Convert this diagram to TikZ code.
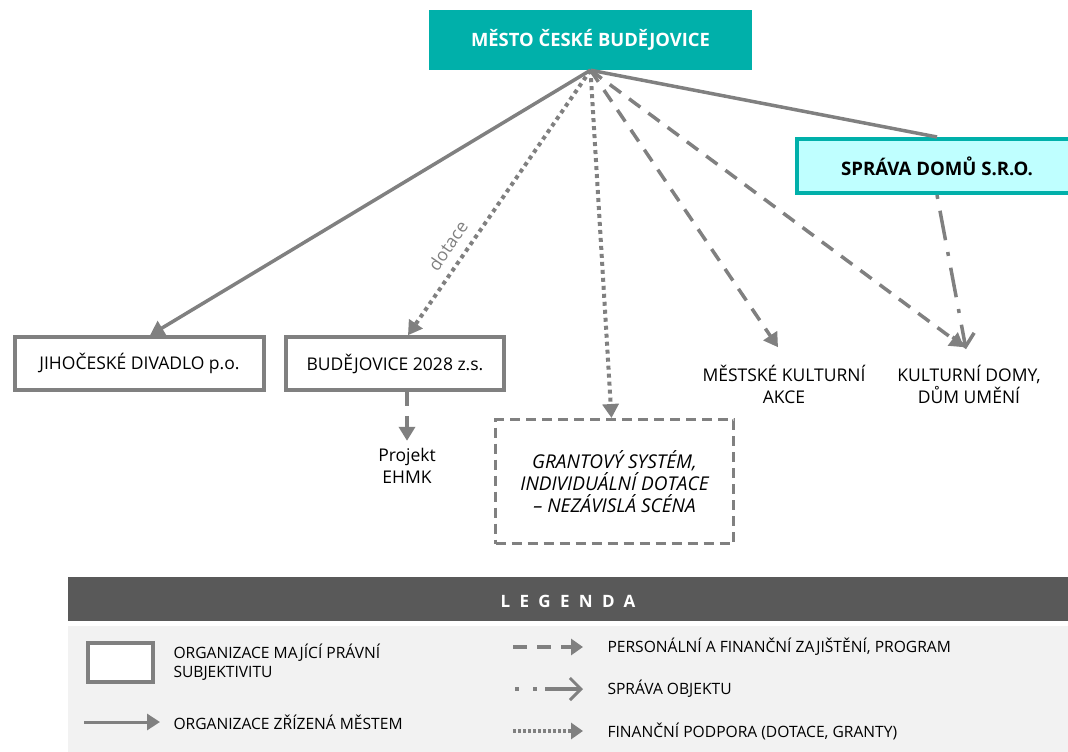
\documentclass[tikz,border=0pt]{standalone}
\usepackage{fontspec}
\setmainfont{Open Sans}
\usetikzlibrary{arrows.meta,positioning,calc}

\definecolor{cbteal}{HTML}{00B0AA}
\definecolor{cbcyan}{HTML}{BFFFFF}
\definecolor{cbgray}{HTML}{808080}
\definecolor{cbdark}{HTML}{595959}
\definecolor{cblight}{HTML}{F2F2F2}

\begin{document}
\begin{tikzpicture}
[x=1pt,y=-1pt,
font=\fontsize{17.5}{22}\selectfont,
%
city/.style={shape=rectangle,fill=cbteal,text=white,font=\fontsize{18.4}{22}\selectfont\bfseries,minimum width=323pt,minimum height=60pt},
firm/.style={shape=rectangle,draw=cbteal,fill=cbcyan,line width=4pt,font=\fontsize{18.6}{22}\selectfont\bfseries,minimum width=281pt,minimum height=54pt},
org/.style={shape=rectangle,draw=cbgray,fill=white,line width=3.5pt,minimum height=53pt},
grant/.style={shape=rectangle,draw=cbgray,line width=3pt,dash pattern=on 10pt off 6pt,minimum width=238pt,minimum height=124pt,align=center,font=\fontsize{19}{22}\selectfont\itshape},
plain/.style={align=center},
legtext/.style={anchor=west,align=left,font=\fontsize{15.6}{19}\selectfont},
%
link/.style={draw=cbgray,line width=3.5pt},
sedge/.style={link,-{Triangle[length=14pt,width=16pt]}},
dashedge/.style={sedge,dash pattern=on 14pt off 10pt},
dotedge/.style={sedge,line width=4pt,dash pattern=on 4pt off 4pt},
careedge/.style={link,dash pattern=on 4pt off 12pt on 30pt off 12pt,-{Straight Barb[length=12pt,width=22pt,line width=3.5pt]}}]
%
\useasboundingbox (0,0) rectangle (1068,752);
%
% organisations
\node (city) [city] at (590.5,40) {MĚSTO ČESKÉ BUDĚJOVICE};
\node (domy) [firm] at (937,166) {SPRÁVA DOMŮ S.R.O.};
\node (divadlo) [org,minimum width=249pt] at (139.5,363.5) {JIHOČESKÉ DIVADLO p.o.};
\node (bud) [org,minimum width=218pt] at (395,363.5) {BUDĚJOVICE 2028 z.s.};
\node (ehmk) [plain] at (407,466) {Projekt\\EHMK};
\node (grant) [grant] at (614.5,481.5) {GRANTOVÝ SYSTÉM,\\INDIVIDUÁLNÍ DOTACE\\– NEZÁVISLÁ SCÉNA};
\node (akce) [plain] at (784,384) {MĚSTSKÉ KULTURNÍ\\AKCE};
\node (kd) [plain] at (969,384) {KULTURNÍ DOMY,\\DŮM UMĚNÍ};
%
% links
\draw[link] (city.south) -- (domy.north);
\draw[sedge] (city.south) -- ($(divadlo.north)+(10.5,0)$);
\draw[dotedge] (city.south) -- ($(bud.north)+(13,0)$)
  node [pos=.7,sloped,above=6pt,text=cbgray] {dotace};
\draw[dashedge] (bud.south) ++(12,0) -- ($(ehmk.north)+(0,-4)$);
\draw[dotedge] (city.south) -- ($(grant.north)+(-3,0)$);
\draw[dashedge] (city.south) -- ($(akce.north)+(-6,-14)$);
\draw[dashedge] (city.south) -- ($(kd.north)+(-5,-14)$);
\draw[careedge] (domy.south) -- ($(kd.north)+(-3,-12)$);
%
% legend
\fill[cbdark] (68,577) rectangle (1068,621);
\node (leg) [text=white,font=\fontsize{17}{20}\selectfont\bfseries\addfontfeatures{LetterSpace=55}] at (568,601) {LEGENDA};
\fill[cblight] (68,626) rectangle (1068,752);
\node (legbox) [org,minimum width=65pt,minimum height=39pt,inner sep=0pt] at (120.5,662.5) {};
\node (legorg) [legtext] at (170,662) {ORGANIZACE MAJÍCÍ PRÁVNÍ\\SUBJEKTIVITU};
\node (legfound) [legtext] at (170,722) {ORGANIZACE ZŘÍZENÁ MĚSTEM};
\node (legstaff) [legtext] at (604,647) {PERSONÁLNÍ A FINANČNÍ ZAJIŠTĚNÍ, PROGRAM};
\node (legcare) [legtext] at (604,689) {SPRÁVA OBJEKTU};
\node (legfund) [legtext] at (604,731) {FINANČNÍ PODPORA (DOTACE, GRANTY)};
\draw[sedge,line width=3pt,-{Triangle[length=13pt,width=16pt]}] ($(legfound.west)+(-86,0)$) -- ($(legfound.west)+(-10,0)$);
\draw[dashedge,-{Triangle[length=12pt,width=16pt]}] ($(legstaff.west)+(-91,0)$) -- ($(legstaff.west)+(-21,0)$);
\draw[link,dash pattern=on 4pt off 14pt on 4pt off 8pt on 80pt,-{Straight Barb[length=11pt,width=22pt,line width=3pt]}] ($(legcare.west)+(-89,0)$) -- ($(legcare.west)+(-21,0)$);
\draw[dotedge,dash pattern=on 3pt off 2pt,-{Triangle[length=12pt,width=16pt]}] ($(legfund.west)+(-91,0)$) -- ($(legfund.west)+(-21,0)$);
\end{tikzpicture}
\end{document}
